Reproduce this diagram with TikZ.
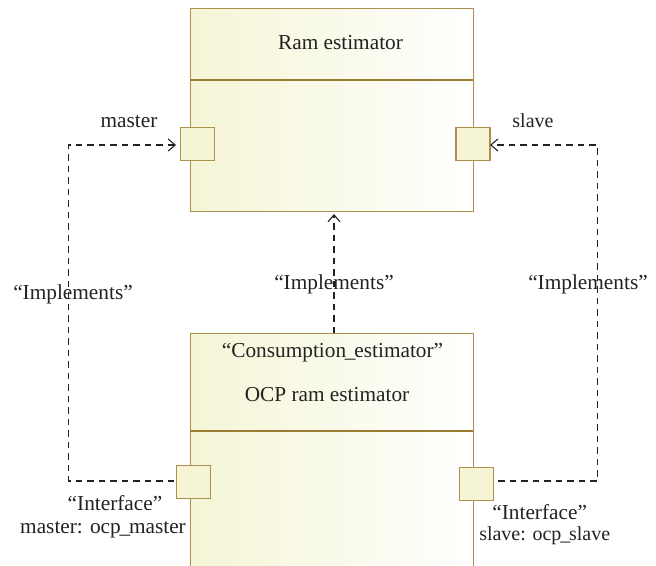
\documentclass[tikz,border=0pt]{standalone}
\usepackage{fontspec}
\setmainfont{Liberation Serif}
\usetikzlibrary{arrows.meta}
\definecolor{umlstroke}{HTML}{AD9050}
\definecolor{umldiv}{HTML}{9A7D33}
\definecolor{umlfill}{HTML}{F5F5D6}
\definecolor{umlink}{HTML}{222222}
\newcommand{\tightus}{\kern-1.2pt\_\kern-1.2pt}
\tikzset{
  x=1pt,y=-1pt,
  compbox/.style={draw=umlstroke,line width=1.4pt,left color=umlfill,right color=white,shading angle=90,inner sep=0pt,anchor=north west},
  portbox/.style={draw=umlstroke,line width=1.4pt,fill=umlfill,inner sep=0pt,minimum width=34pt,minimum height=33pt,anchor=north west},
  divider/.style={draw=umldiv,line width=1.8pt},
  label/.style={text=umlink,font=\fontsize{21.3}{25}\selectfont,anchor=base,inner sep=0pt,outer sep=0pt},
  labelslim/.style={label,font=\fontsize{20}{24}\selectfont},
  dep/.style={draw=umlink,line width=1.1pt,dash pattern=on 6.5pt off 5pt},
  deptip/.style={dep,-{Straight Barb[length=7pt,width=12pt,line width=1.1pt]}},
}
\begin{document}
\begin{tikzpicture}
\useasboundingbox (0,0) rectangle (656,565);
\clip (0,0) rectangle (656,565);
% components
\node[compbox,minimum width=283pt,minimum height=203pt] (ram) at (190,8) {};
\node[compbox,minimum width=283pt,minimum height=250pt] (ocp) at (190,332.5) {};
\coordinate (ramdivl) at (190,79.7);
\coordinate (ramdivr) at (473,79.7);
\coordinate (ocpdivl) at (190,430.7);
\coordinate (ocpdivr) at (473,430.7);
\draw[divider] (ramdivl) -- (ramdivr);
\draw[divider] (ocpdivl) -- (ocpdivr);
% ports
\node[portbox] (pm) at (179.8,127) {};
\node[portbox] (ps) at (455.3,127) {};
\node[portbox] (im) at (176,464.6) {};
\node[portbox] (is) at (458.8,466.8) {};
% corners
\coordinate (cl1) at (68.7,145);
\coordinate (cl2) at (68.7,481);
\coordinate (cr1) at (597.3,145);
\coordinate (cr2) at (597.3,481);
\coordinate (ptm) at (176,145);
\coordinate (pts) at (490,145);
\coordinate (sim) at (174,481);
\coordinate (sis) at (498,481);
\coordinate (ocptop) at (334,333);
\coordinate (ramlow) at (334,214);
% connectors
\draw[deptip] (sim) -- (cl2) -- (cl1) -- (ptm);
\draw[deptip] (sis) -- (cr2) -- (cr1) -- (pts);
\draw[deptip] (ocptop) -- (ramlow);
% labels
\node[label] (t1) at (340.5,49.7) {Ram estimator};
\node[label] (t2) at (129,127.7) {master};
\node[labelslim] (t3) at (533,127.7) {slave};
\node[label] (t4) at (73,299.7) {“Implements”};
\node[label] (t5) at (334,289.7) {“Implements”};
\node[label] (t6) at (588,289.7) {“Implements”};
\node[label] (t7) at (332.5,357.5) {“Consumption\tightus estimator”};
\node[label] (t8) at (327,401.8) {OCP ram estimator};
\node[label] (t9) at (115,510.5) {“Interface”};
\node[label] (t10) at (103,533) {master: ocp\tightus master};
\node[label] (t11) at (539.7,519) {“Interface”};
\node[labelslim] (t12) at (544.7,540.6) {slave: ocp\tightus slave};
\end{tikzpicture}
\end{document}
